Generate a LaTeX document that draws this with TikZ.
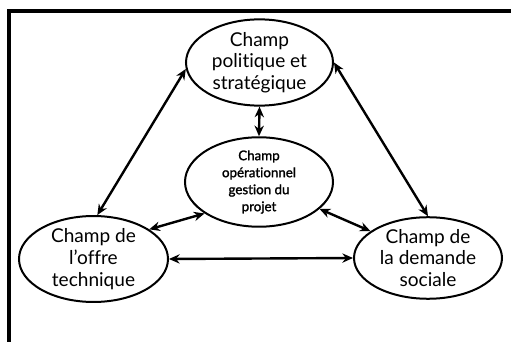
\documentclass[tikz,border=0pt]{standalone}
\usepackage{fontspec}
\setmainfont[Ligatures={NoCommon}]{Lato}
\newfontfamily\midfont[Ligatures={NoCommon},FakeBold=1.5]{Lato}
\usetikzlibrary{arrows.meta,shapes.geometric}
\begin{document}
\begin{tikzpicture}[x=0.75pt,y=-0.75pt,
  field/.style={draw,ellipse,line width=1.5pt,inner sep=0pt,align=center,
    font=\fontsize{14.3}{16.3}\selectfont},
  inner/.style={draw,ellipse,line width=1.5pt,inner sep=0pt,align=center,
    font=\midfont\fontsize{10}{12.75}\selectfont},
  link/.style={line width=1.8pt,{Stealth[length=8pt,width=7pt]}-{Stealth[length=8pt,width=7pt]}}]
\useasboundingbox (0,0) rectangle (511,342);
\clip (0,0) rectangle (511,342);
\draw[line width=2.4pt] (9,345) -- (9,11) -- (515,11);
\node[field,minimum width=110.25pt,minimum height=51.75pt] (top) at (259.5,62.5)
  {Champ\\politique et\\stratégique};
\node[inner,minimum width=111pt,minimum height=52.5pt] (mid) at (259,182)
  {Champ\\opérationnel\\gestion du\\projet};
\node[field,minimum width=111.75pt,minimum height=54pt] (left) at (93.5,259)
  {Champ de\\l’offre\\technique};
\node[field,minimum width=111pt,minimum height=52.5pt] (right) at (428,258)
  {Champ de\\la demande\\sociale};
\draw[link] (top.185) -- (left.85);
\draw[link] (top.east) -- (right.north);
\draw[link] (top.south) -- (mid.north);
\draw[link] (mid.210) -- (left.28);
\draw[link] (mid.336) -- (right.155);
\draw[link] (left.east) -- (right.west);
\end{tikzpicture}
\end{document}
